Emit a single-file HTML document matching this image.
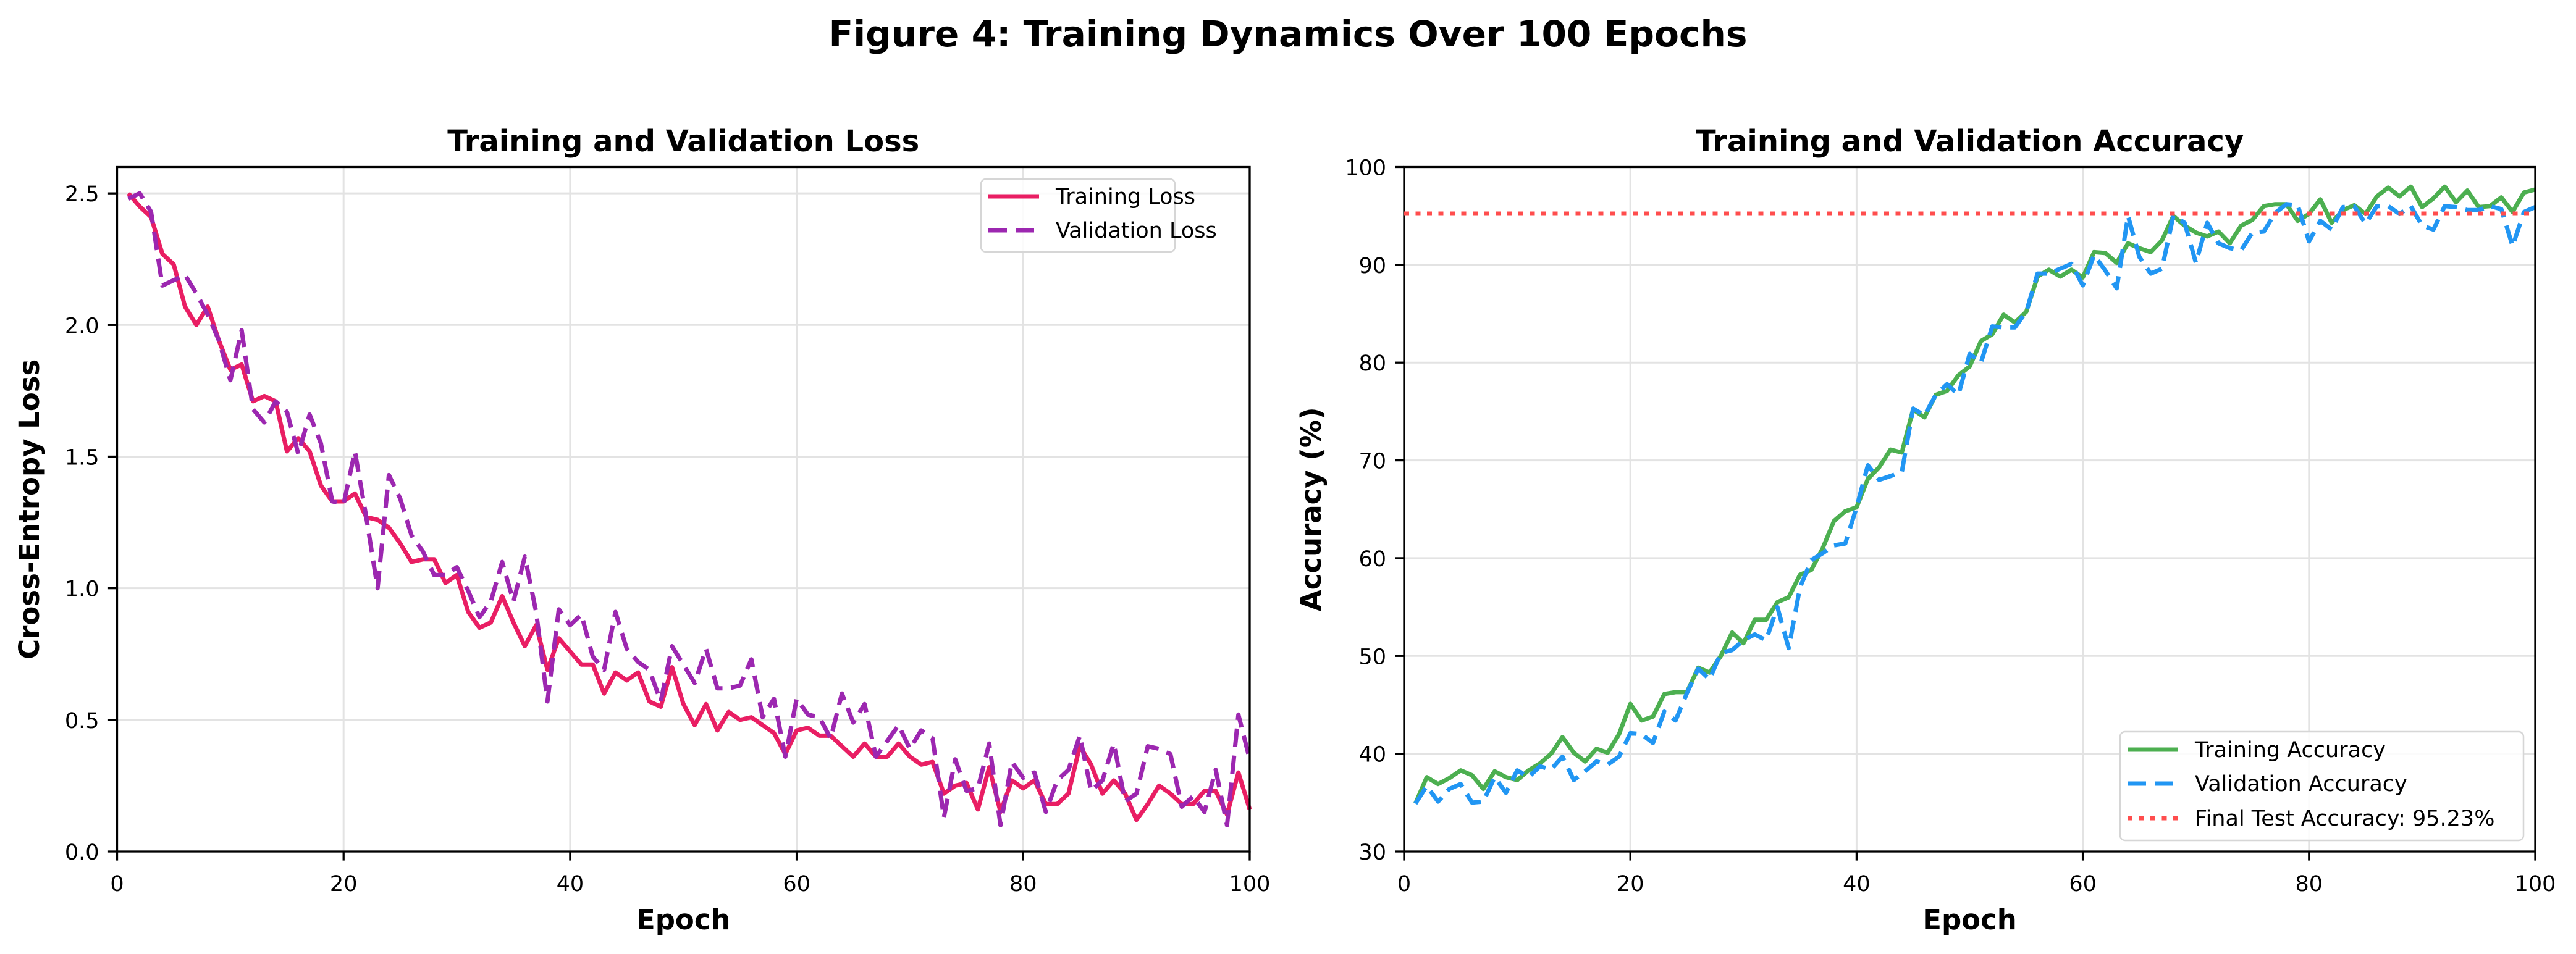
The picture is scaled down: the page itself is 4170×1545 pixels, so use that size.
<!DOCTYPE html>
<html><head><meta charset="utf-8"><style>
html,body{margin:0;padding:0;background:#fff;}
svg{display:block;font-family:"DejaVu Sans","Liberation Sans",sans-serif;}
</style></head><body>
<svg id="fig" width="4170" height="1545" viewBox="0 0 4170 1545" xmlns="http://www.w3.org/2000/svg">
<rect width="4170" height="1545" fill="#fff"/>
<text x="2085" y="75" text-anchor="middle" font-weight="bold" font-size="58" textLength="1487" lengthAdjust="spacingAndGlyphs">Figure 4: Training Dynamics Over 100 Epochs</text>
<g id="left"></g>
<g id="right"></g>
</svg>
<script>
const epochs = Array.from({length:100},(_,i)=>i+1);
const trainLoss = [2.50,2.45,2.41,2.27,2.23,2.07,2.00,2.07,1.94,1.83,1.85,1.71,1.73,1.71,1.52,1.57,1.52,1.39,1.33,1.33,1.36,1.27,1.26,1.23,1.17,1.10,1.11,1.11,1.02,1.05,0.91,0.85,0.87,0.97,0.87,0.78,0.86,0.69,0.81,0.76,0.71,0.71,0.60,0.68,0.65,0.68,0.57,0.55,0.70,0.56,0.48,0.56,0.46,0.53,0.50,0.51,0.48,0.45,0.37,0.46,0.47,0.44,0.44,0.40,0.36,0.41,0.36,0.36,0.41,0.36,0.33,0.34,0.22,0.25,0.26,0.16,0.32,0.15,0.27,0.24,0.27,0.18,0.18,0.22,0.40,0.33,0.22,0.27,0.22,0.12,0.18,0.25,0.22,0.18,0.18,0.23,0.23,0.14,0.30,0.16];
const valLoss = [2.48,2.50,2.43,2.15,2.17,2.19,2.12,2.04,1.94,1.79,1.98,1.68,1.63,1.71,1.67,1.51,1.66,1.55,1.33,1.32,1.52,1.27,1.00,1.43,1.34,1.20,1.14,1.05,1.05,1.08,0.99,0.89,0.95,1.10,0.95,1.12,0.91,0.57,0.92,0.86,0.90,0.74,0.69,0.91,0.77,0.72,0.69,0.57,0.78,0.71,0.64,0.77,0.62,0.62,0.63,0.73,0.51,0.58,0.36,0.58,0.52,0.51,0.43,0.60,0.49,0.56,0.36,0.42,0.48,0.39,0.46,0.43,0.13,0.35,0.23,0.24,0.41,0.10,0.34,0.28,0.30,0.15,0.27,0.31,0.44,0.23,0.27,0.41,0.19,0.22,0.40,0.39,0.37,0.17,0.21,0.15,0.31,0.10,0.52,0.35];
const trainAcc = [34.9,37.6,36.9,37.5,38.3,37.8,36.4,38.2,37.6,37.3,38.3,39.0,40.0,41.7,40.1,39.2,40.5,40.1,42.0,45.1,43.4,43.8,46.1,46.3,46.3,48.8,48.3,50.0,52.4,51.3,53.7,53.7,55.5,56.0,58.3,58.8,61.0,63.8,64.8,65.2,68.1,69.3,71.1,70.8,75.2,74.4,76.7,77.1,78.7,79.6,82.2,82.9,84.9,84.1,85.2,88.8,89.5,88.8,89.5,88.7,91.3,91.2,90.2,92.2,91.7,91.3,92.5,95.0,94.0,93.3,92.9,93.4,92.2,94.0,94.6,96.0,96.2,96.2,94.5,95.2,96.7,94.3,95.6,96.1,95.2,97.0,97.9,97.0,98.0,95.9,96.8,98.0,96.4,97.6,95.9,96.0,96.9,95.4,97.4,97.7];
const valAcc = [34.9,36.7,35.1,36.4,36.9,35.0,35.1,37.6,36.0,38.3,37.6,38.7,38.4,39.7,37.3,38.2,39.2,38.9,39.7,42.1,42.0,41.1,44.3,43.4,46.2,48.7,47.6,50.3,50.6,51.6,52.2,51.6,55.0,50.8,57.0,59.8,60.5,61.3,61.5,65.2,69.5,68.0,68.4,68.8,75.3,74.6,76.7,77.8,76.7,80.9,80.0,83.7,83.6,83.6,85.2,89.1,89.1,89.6,90.1,87.9,91.0,89.4,87.6,95.0,90.8,89.1,89.6,95.0,94.3,90.2,94.3,92.2,91.7,91.5,93.3,93.4,95.3,96.2,96.1,92.4,94.5,93.6,95.9,96.0,94.2,96.0,96.0,95.2,96.0,94.0,93.6,96.0,95.9,95.6,95.6,96.0,95.7,91.9,95.4,95.9];
const testAcc = 95.23;
const xTicks = [0,20,40,60,80,100];
const lossTicks = [0.0,0.5,1.0,1.5,2.0,2.5];
const accTicks = [30,40,50,60,70,80,90,100];

const NS="http://www.w3.org/2000/svg";
function mk(parent,tag,attrs,text){const e=document.createElementNS(NS,tag);for(const k in attrs)e.setAttribute(k,attrs[k]);if(text!==undefined)e.textContent=text;parent.appendChild(e);return e;}

function panel(g,L,R,T,B,ymin,ymax,yTicks,yFmt,title,ylabel,series,ylabelX){
  const sx=v=>L+(v-0)/(100-0)*(R-L);
  const sy=v=>B-(v-ymin)/(ymax-ymin)*(B-T);
  xTicks.forEach(t=>{const l=mk(g,'line',{x1:sx(t),x2:sx(t),y1:T,y2:B,stroke:'#e3e3e3','stroke-width':3});
    
    });
  yTicks.forEach(t=>{const l=mk(g,'line',{x1:L,x2:R,y1:sy(t),y2:sy(t),stroke:'#e3e3e3','stroke-width':3});
    
    });
  series.forEach(s=>{
    const d=s.ys.map((v,i)=>(i?'L':'M')+sx(s.xs[i]).toFixed(1)+','+sy(v).toFixed(1)).join('');
    const p=mk(g,'path',{d:d,fill:'none',stroke:s.color,'stroke-width':s.w,'stroke-linejoin':'round','stroke-dasharray':s.dash||'none'});
    
    
  });
  const fr=mk(g,'rect',{x:L,y:T,width:R-L,height:B-T,fill:'none',stroke:'#000','stroke-width':3.3});
  
  
  xTicks.forEach(t=>{mk(g,'line',{x1:sx(t),x2:sx(t),y1:B,y2:B+14.6,stroke:'#000','stroke-width':3.3});
    const tx=mk(g,'text',{x:sx(t),y:B+64,'text-anchor':'middle','font-size':35},String(t));
    
    });
  yTicks.forEach(t=>{mk(g,'line',{x1:L-14.6,x2:L,y1:sy(t),y2:sy(t),stroke:'#000','stroke-width':3.3});
    const tx=mk(g,'text',{x:L-29,y:sy(t)+13,'text-anchor':'end','font-size':35},yFmt(t));
    
    });
  const tt=mk(g,'text',{x:(L+R)/2,y:245,'text-anchor':'middle','font-size':48,'font-weight':'bold'},title);
  
  
  const xl=mk(g,'text',{x:(L+R)/2,y:1505,'text-anchor':'middle','font-size':45,'font-weight':'bold'},'Epoch');
  
  
  const cy=(T+B)/2;
  const yl=mk(g,'text',{x:ylabelX,y:cy,'text-anchor':'middle','font-size':45,'font-weight':'bold',transform:`rotate(-90 ${ylabelX} ${cy})`},ylabel);
  
  
  return {sx,sy};
}
function legend(g,x,y,w,h,entries){
  const lg=mk(g,'g',{});
  
  
  mk(lg,'rect',{x:x,y:y,width:w,height:h,rx:8,fill:'#fff','fill-opacity':0.85,stroke:'#d6d6d6','stroke-width':2.5});
  entries.forEach(e=>{
    const eg=mk(lg,'g',{});
    
    
    mk(eg,'line',{x1:x+12,x2:x+94,y1:e.y,y2:e.y,stroke:e.color,'stroke-width':e.w,'stroke-dasharray':e.dash||'none'});
    mk(eg,'text',{x:x+121,y:e.y+12,'font-size':35},e.label);
  });
}
const left=document.getElementById('left');
panel(left,189.5,2023,270.5,1379,0,2.6,lossTicks,t=>t.toFixed(1),'Training and Validation Loss','Cross-Entropy Loss',[
  {xs:epochs,ys:trainLoss,color:'#E91E63',w:7,name:'training-loss-line'},
  {xs:epochs,ys:valLoss,color:'#9C27B0',w:7,dash:'30 14',name:'validation-loss-line'}],63);
legend(left,1588,290,314,118,[
  {y:318,color:'#E91E63',w:7,label:'Training Loss'},
  {y:373,color:'#9C27B0',w:7,dash:'30 14',label:'Validation Loss'}]);

const right=document.getElementById('right');
const ax=panel(right,2273,4104,270.5,1379,30,100,accTicks,t=>String(t),'Training and Validation Accuracy','Accuracy (%)',[
  {xs:epochs,ys:trainAcc,color:'#4CAF50',w:7,name:'training-accuracy-line'},
  {xs:epochs,ys:valAcc,color:'#2196F3',w:7,dash:'30 14',name:'validation-accuracy-line'}],2138);
const ref=mk(right,'line',{x1:2273,x2:4104,y1:ax.sy(testAcc),y2:ax.sy(testAcc),stroke:'#ff4d4d','stroke-width':7,'stroke-dasharray':'8 10.5'});


legend(right,3432,1185,653,176,[
  {y:1214,color:'#4CAF50',w:7,label:'Training Accuracy'},
  {y:1269,color:'#2196F3',w:7,dash:'30 14',label:'Validation Accuracy'},
  {y:1325,color:'#ff4d4d',w:7,dash:'8 10.5',label:'Final Test Accuracy: '+testAcc.toFixed(2)+'%'}]);
</script>
</body></html>
